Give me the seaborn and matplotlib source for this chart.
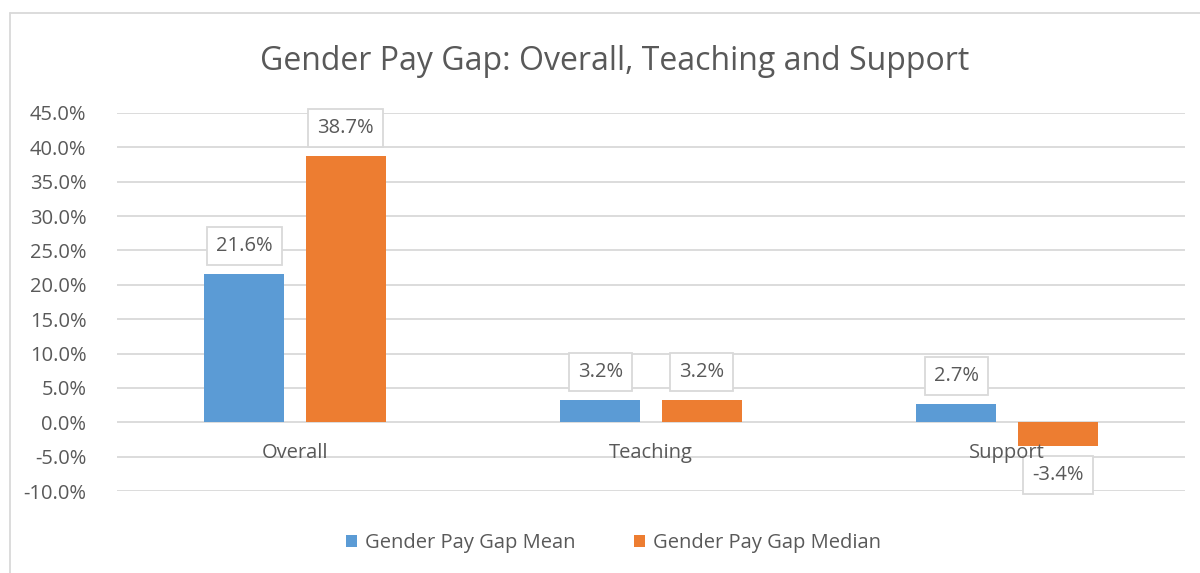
import matplotlib
matplotlib.use("Agg")
import matplotlib.pyplot as plt
import pandas as pd
import seaborn as sns
from matplotlib.lines import Line2D
from matplotlib.patches import Patch
from matplotlib.ticker import FuncFormatter

# --- data ---
categories = ["Overall", "Teaching", "Support"]
series = ["Gender Pay Gap Mean", "Gender Pay Gap Median"]
mean_gap = [21.6, 3.2, 2.7]
median_gap = [38.7, 3.2, -3.4]
colors = ["#5B9BD5", "#ED7D31"]

df = pd.DataFrame({
    "Category": categories * 2,
    "Series": [series[0]] * 3 + [series[1]] * 3,
    "Value": mean_gap + median_gap,
})

sns.set_style("white")
plt.rcParams["font.family"] = ["Open Sans", "DejaVu Sans"]
txt = "#595959"
grid = "#D9D9D9"
fs = 14.5

fig = plt.figure(figsize=(12, 5.73), dpi=100)
ax = fig.add_axes([0.0975, 0.1431, 0.89, 0.6597])

sns.barplot(data=df, x="Category", y="Value", hue="Series", order=categories,
            hue_order=series, palette=colors, width=0.57, gap=0.21,
            saturation=1, legend=False, linewidth=0, ax=ax, zorder=3)

ax.set_xlim(-0.5, 2.5)
ax.set_ylim(-10, 45)
ax.set_yticks(range(-10, 46, 5))
ax.yaxis.set_major_formatter(FuncFormatter(lambda v, p: f"{v:.1f}%"))
ax.tick_params(axis="y", length=0, pad=22, labelsize=fs, labelcolor=txt)
ax.set_xticks([])
ax.set_xlabel("")
ax.set_ylabel("")
for s in ax.spines.values():
    s.set_visible(False)
ax.grid(axis="y", color=grid, linewidth=1.3, zorder=0)
ax.set_axisbelow(True)

# category labels just under the zero line (drawn over the data label boxes)
for i, c in enumerate(categories):
    ax.annotate(c, (i, 0), xytext=(0, -31), textcoords="offset pixels",
                ha="center", va="center", fontsize=fs, color=txt, zorder=8)

# data labels in boxes
for cont in ax.containers:
    for bar in cont:
        v = bar.get_height()
        x = bar.get_x() + bar.get_width() / 2
        off = 28 if v >= 0 else -29
        ax.annotate(f"{v:.1f}%", (x, v), xytext=(0, off), textcoords="offset pixels",
                    ha="center", va="center", fontsize=fs, color=txt, zorder=6,
                    bbox=dict(boxstyle="square,pad=0.45", fc="white", ec=grid, lw=1.3))

fig.suptitle("Gender Pay Gap: Overall, Teaching and Support", x=0.512, y=0.922,
             fontsize=23, color=txt)

handles = [Patch(facecolor=c, edgecolor="none") for c in colors]
fig.legend(handles, series, loc="center", bbox_to_anchor=(0.511, 0.052), ncol=2,
           frameon=False, fontsize=fs, labelcolor=txt, handlelength=0.55,
           handleheight=0.55, handletextpad=0.4, columnspacing=2.9)

# chart area border (top and left visible)
top = 1 - 13 / 573
left = 10 / 1200
fig.add_artist(Line2D([left, 1.0], [top, top], color=grid, lw=1.3, transform=fig.transFigure))
fig.add_artist(Line2D([left, left], [0, top], color=grid, lw=1.3, transform=fig.transFigure))

fig.savefig("out.png", dpi=100)
